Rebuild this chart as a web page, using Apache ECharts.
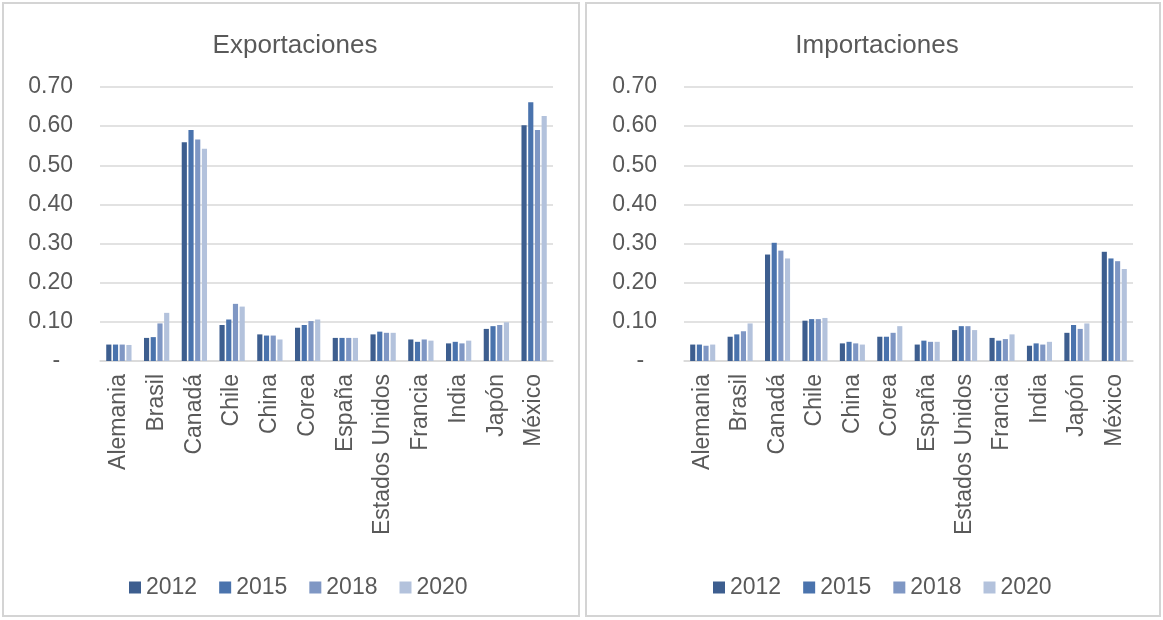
<!DOCTYPE html>
<html>
<head>
<meta charset="utf-8">
<script src="https://cdn.jsdelivr.net/npm/echarts@6/dist/echarts.min.js"></script>
<style>
  html, body { margin: 0; padding: 0; background: #fff; }
  #chart { width: 1163px; height: 620px; }
</style>
</head>
<body>
<div id="chart"></div>
<script>
// categorías y años
var paises = ['Alemania', 'Brasil', 'Canadá', 'Chile', 'China', 'Corea', 'España', 'Estados Unidos', 'Francia', 'India', 'Japón', 'México'];
var anios = ['2012', '2015', '2018', '2020'];
var colores = ['#3d5e8f', '#4a73ad', '#7f97c4', '#b3c2dc'];

// Exportaciones
var exp2012 = [0.042, 0.059, 0.559, 0.092, 0.068, 0.085, 0.059, 0.068, 0.055, 0.045, 0.082, 0.602];
var exp2015 = [0.042, 0.061, 0.590, 0.106, 0.065, 0.092, 0.059, 0.075, 0.049, 0.049, 0.089, 0.661];
var exp2018 = [0.042, 0.096, 0.566, 0.146, 0.065, 0.102, 0.059, 0.072, 0.055, 0.045, 0.092, 0.590];
var exp2020 = [0.041, 0.123, 0.542, 0.139, 0.055, 0.106, 0.059, 0.072, 0.052, 0.052, 0.099, 0.626];

// Importaciones
var imp2012 = [0.042, 0.062, 0.272, 0.103, 0.045, 0.062, 0.042, 0.079, 0.059, 0.039, 0.072, 0.279];
var imp2015 = [0.042, 0.068, 0.302, 0.107, 0.049, 0.062, 0.052, 0.089, 0.052, 0.045, 0.092, 0.262];
var imp2018 = [0.039, 0.076, 0.282, 0.107, 0.045, 0.072, 0.049, 0.089, 0.056, 0.042, 0.082, 0.255];
var imp2020 = [0.042, 0.096, 0.262, 0.110, 0.042, 0.089, 0.049, 0.079, 0.068, 0.049, 0.096, 0.235];

var expData = [exp2012, exp2015, exp2018, exp2020];
var impData = [imp2012, imp2015, imp2018, imp2020];

var fuente = '"Liberation Sans", Arial, sans-serif';
var gris = '#595959';

function ejeX(idx) {
    return {
        type: 'category', gridIndex: idx, data: paises,
        axisLine: { show: true, lineStyle: { color: '#d9d9d9', width: 1.5 } },
        axisTick: { show: false },
        axisLabel: { rotate: 90, interval: 0, margin: 13, color: gris, fontSize: 23, fontFamily: fuente }
    };
}

function ejeY(idx) {
    return {
        type: 'value', gridIndex: idx, min: 0, max: 0.7, interval: 0.1,
        axisLine: { show: false }, axisTick: { show: false },
        splitLine: { lineStyle: { color: '#d9d9d9', width: 1.5 } },
        axisLabel: {
            margin: 27, color: gris, fontSize: 23, fontFamily: fuente,
            formatter: function (v) { return v === 0 ? '-  ' : v.toFixed(2); }
        }
    };
}

var series = [];
anios.forEach(function (a, i) {
    series.push({
        name: a, type: 'bar', xAxisIndex: 0, yAxisIndex: 0,
        data: expData[i], itemStyle: { color: colores[i] },
        barGap: '30%', barCategoryGap: '33%'
    });
    series.push({
        name: a, type: 'bar', xAxisIndex: 1, yAxisIndex: 1,
        data: impData[i], itemStyle: { color: colores[i] },
        barGap: '30%', barCategoryGap: '33%'
    });
});

var leyenda = function (x) {
    return {
        data: anios, left: x, top: 571, itemWidth: 12, itemHeight: 12, itemGap: 22, icon: 'rect',
        textStyle: { color: gris, fontSize: 23, fontFamily: fuente }
    };
};

var chart = echarts.init(document.getElementById('chart'));
chart.setOption({
    animation: false,
    textStyle: { fontFamily: fuente },
    graphic: [
        { type: 'rect', shape: { x: 3, y: 3, width: 576, height: 613 }, style: { fill: 'none', stroke: '#d4d4d4', lineWidth: 2 } },
        { type: 'rect', shape: { x: 586, y: 3, width: 574, height: 613 }, style: { fill: 'none', stroke: '#d4d4d4', lineWidth: 2 } }
    ],
    title: [
        { text: 'Exportaciones', left: 290, top: 28, textAlign: 'center', textStyle: { color: gris, fontSize: 26, fontWeight: 'normal', fontFamily: fuente } },
        { text: 'Importaciones', left: 872, top: 28, textAlign: 'center', textStyle: { color: gris, fontSize: 26, fontWeight: 'normal', fontFamily: fuente } }
    ],
    legend: [leyenda(124), leyenda(708)],
    grid: [
        { left: 100, right: 610, top: 87, bottom: 259 },
        { left: 684, right: 30, top: 87, bottom: 259 }
    ],
    xAxis: [ejeX(0), ejeX(1)],
    yAxis: [ejeY(0), ejeY(1)],
    series: series
});
</script>
</body>
</html>
